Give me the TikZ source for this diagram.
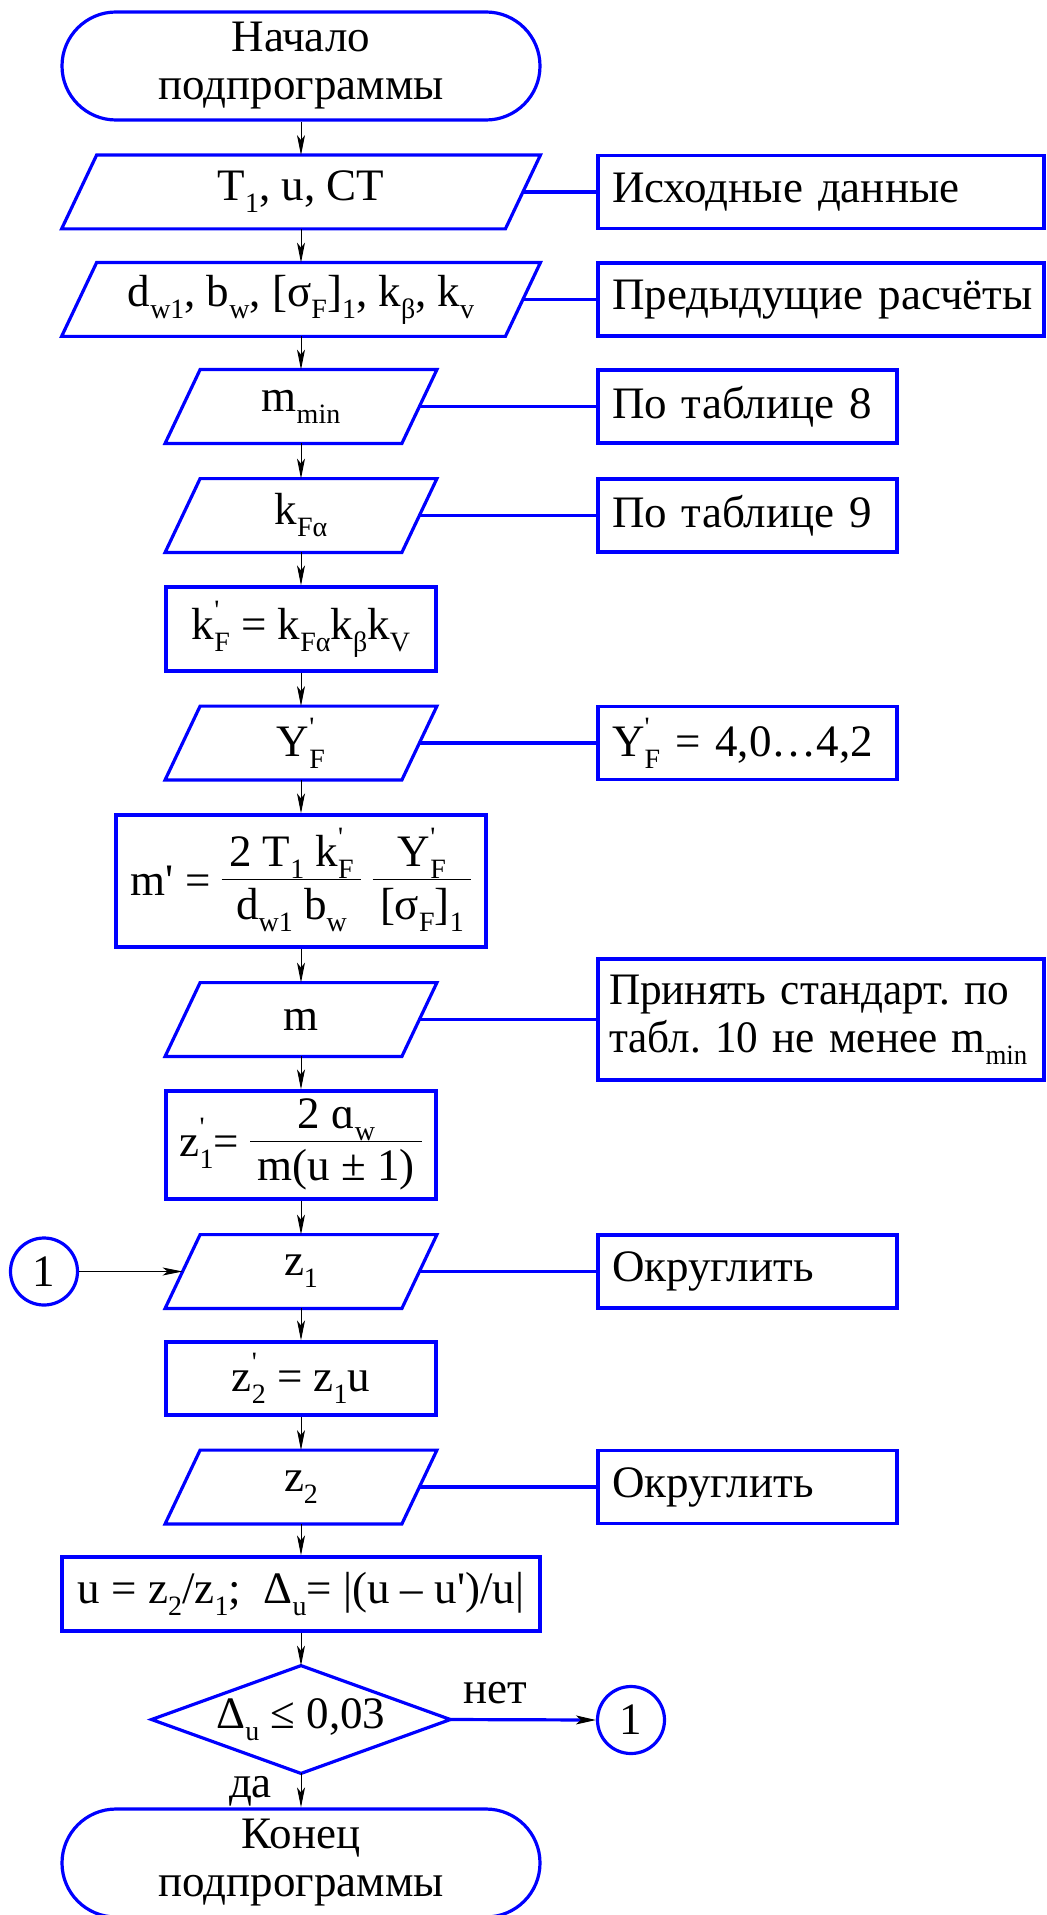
\documentclass[tikz,border=0pt]{standalone}
\usepackage{graphicx}
\usepackage{fontspec}
\setmainfont{Liberation Serif}[Ligatures=TeXOff]
\usetikzlibrary{arrows.meta}
\frenchspacing

\definecolor{fcblue}{RGB}{0,0,255}
\newcommand{\fsz}{\fontsize{22.5}{24}\selectfont}
\newcommand{\lo}[1]{\raisebox{-6pt}{\fontsize{14}{14}\selectfont #1}}
\newcommand{\pr}[1]{\rlap{\raisebox{10pt}{\fontsize{14}{14}\selectfont '}}\lo{#1}}
\newcommand{\fr}[2]{\raisebox{-12pt}{\setlength{\arrayrulewidth}{0.6pt}%
  \begin{tabular}[b]{@{\,}c@{\,}}#1\\[-1pt]\hline\rule{0pt}{19.5pt}#2\end{tabular}}}

\tikzset{
  bline/.style={fcblue, line width=1.6pt},
  arr/.style={-{Stealth[length=10pt,width=4pt,inset=2.5pt]}, line width=0.5pt},
  term/.style={draw=fcblue, line width=1.6pt, rounded corners=27pt,
    minimum width=239pt, minimum height=54pt, align=center},
  iobox/.style={rectangle, inner sep=0pt, minimum width=#1, minimum height=36.5pt},
  proc/.style={draw=fcblue, line width=1.6pt, inner sep=0pt, minimum width=#1},
  comm/.style={draw=fcblue, line width=1.6pt, inner xsep=7pt, inner ysep=0pt,
    text width=#1, align=left, minimum height=36.5pt},
  conn/.style={draw=fcblue, line width=1.6pt, circle, inner sep=0pt, minimum size=33.5pt},
}

\begin{document}
\begin{tikzpicture}[x=0.5pt, y=-0.5pt, font=\fsz]
\useasboundingbox (0,0) rectangle (1046,1915);

% Main column
\node[term] (start) at (301,66) {Начало\\подпрограммы};
\node[iobox=221.5pt] (in1) at (301,192) {T\lo{1}, u, CT};
\node[iobox=221.5pt] (in2) at (301,299.5) {d\lo{w1}, b\lo{w}, [σ\lo{F}]\lo{1}, k\lo{β}, k\lo{v}};
\node[iobox=118pt] (in3) at (301,406.5) {m\lo{min}};
\node[iobox=118pt] (in4) at (301,515.5) {k\lo{Fα}};
\node[proc=135pt, minimum height=42pt] (kf) at (301,629) {k\pr{F} = k\lo{Fα}k\lo{β}k\lo{V}};
\node[iobox=118pt] (in5) at (301,743) {Y\pr{F}};
\node[proc=185pt, minimum height=66pt] (mpr) at (301,881)
  {m' = \fr{2 T\lo{1} k\pr{F}}{d\lo{w1} b\lo{w}} \fr{Y\pr{F}}{[σ\lo{F}]\lo{1}}};
\node[iobox=118pt] (in6) at (301,1019.5) {m};
\node[proc=135pt, minimum height=54pt] (zpr1) at (301,1145) {z\pr{1}= \fr{2 ɑ\lo{w}}{m(u ± 1)}};
\node[iobox=118pt] (in7) at (301,1271.5) {z\lo{1}};
\node[proc=135pt, minimum height=36.5pt] (zpr2) at (301,1378.5) {z\pr{2} = z\lo{1}u};
\node[iobox=118pt] (in8) at (301,1487) {z\lo{2}};
\node[proc=239pt, minimum height=37pt] (ubox) at (301,1594)
  {u = z\lo{2}/z\lo{1};\ \ Δ\lo{u}= |(u – u')/u|};
\node[rectangle, inner sep=0pt, minimum width=149pt, minimum height=53.5pt] (dec) at (301,1719.5)
  {Δ\lo{u} ≤ 0,03};
\node[term] (stop) at (301,1863) {Конец\\подпрограммы};

% Parallelograms and decision
\foreach \n in {in1,in2,in3,in4,in5,in6,in7,in8}
  \draw[bline] ([xshift=8.75pt]\n.north west) -- ([xshift=8.75pt]\n.north east)
    -- ([xshift=-8.75pt]\n.south east) -- ([xshift=-8.75pt]\n.south west) -- cycle;
\draw[bline] (dec.north) -- (dec.east) -- (dec.south) -- (dec.west) -- cycle;

% Comments
\node[comm=209pt] (c1) at (821,192) {Исходные данные};
\node[comm=209pt] (c2) at (821,299.5) {Предыдущие~расчёты};
\node[comm=135.5pt] (c3) at (747.5,406.5) {По таблице 8};
\node[comm=135.5pt] (c4) at (747.5,515.5) {По таблице 9};
\node[comm=135.5pt] (c5) at (747.5,743) {Y\pr{F} = 4,0…4,2};
\node[comm=212pt, inner xsep=5.5pt, minimum height=60.5pt] (c6) at (821,1019.5)
  {\scalebox{0.96}[1]{Принять стандарт. по}\\\scalebox{0.96}[1]{табл. 10 не менее m\lo{min}}};
\node[comm=135.5pt] (c7) at (747.5,1271.5) {Округлить};
\node[comm=135.5pt] (c8) at (747.5,1487) {Округлить};

% Connectors
\node[conn] (lc) at (44,1271.5) {1};
\node[conn] (rc) at (631,1720) {1};

\foreach \a/\b in {start/in1,in1/in2,in2/in3,in3/in4,in4/kf,kf/in5,in5/mpr,mpr/in6,
    in6/zpr1,zpr1/in7,in7/zpr2,zpr2/in8,in8/ubox,ubox/dec,dec/stop}
  \draw[arr] (\a.south) -- (\b.north);
\foreach \a/\b in {in1/c1,in2/c2,in3/c3,in4/c4,in5/c5,in6/c6,in7/c7,in8/c8}
  \draw[bline] (\a.east) -- (\b.west);

\draw[arr] (lc) -- (in7.west);
\draw[bline, -{Stealth[length=10pt,width=4.5pt,inset=2.5pt,color=black,line width=0.5pt]}]
  (dec.east) -- (rc.west);
\node[anchor=base west] (lbno) at ([xshift=3pt,yshift=8pt]dec.east) {нет};
\node[anchor=base east] (lbyes) at ([xshift=-11pt,yshift=-12pt]dec.south) {да};

\end{tikzpicture}
\end{document}
